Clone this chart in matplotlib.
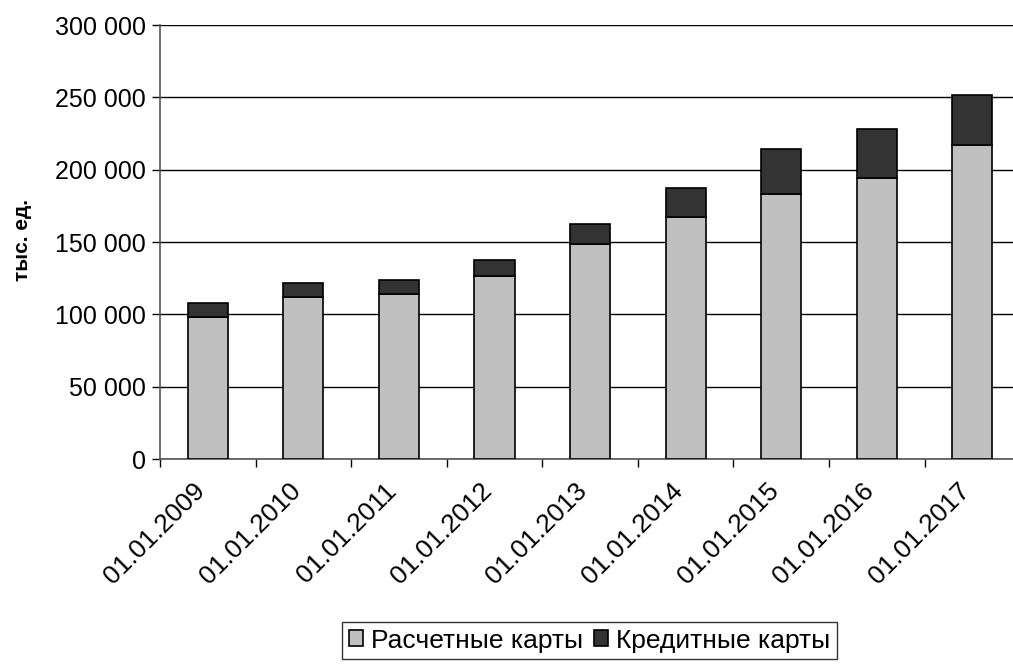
import matplotlib
import matplotlib.pyplot as plt
import matplotlib.transforms as mtransforms
import numpy as np
from matplotlib.ticker import FuncFormatter, FixedLocator

matplotlib.use("Agg")

DATES = ["01.01.2009", "01.01.2010", "01.01.2011", "01.01.2012", "01.01.2013",
         "01.01.2014", "01.01.2015", "01.01.2016", "01.01.2017"]
SETTLEMENT_CARDS = [98300, 112200, 114000, 126500, 148500, 167200, 183300, 194400, 216800]
CREDIT_CARDS = [9300, 9300, 9800, 11100, 14000, 20300, 31000, 33700, 35100]
SERIES_NAMES = ["Расчетные карты", "Кредитные карты"]

plt.rcParams["font.family"] = ["Liberation Sans", "DejaVu Sans"]


def thousands(value, _pos):
    return f"{int(value):,}".replace(",", " ")


fig = plt.figure(figsize=(10.13, 6.64), dpi=100)
ax = fig.add_axes([0.158, 0.3087, 0.849, 0.6536])

x = np.arange(len(DATES))
ax.bar(x, SETTLEMENT_CARDS, width=0.42, color="#c0c0c0", edgecolor="black",
       linewidth=1.2, label=SERIES_NAMES[0], zorder=3)
ax.bar(x, CREDIT_CARDS, width=0.42, bottom=SETTLEMENT_CARDS, color="#333333",
       edgecolor="black", linewidth=1.2, label=SERIES_NAMES[1], zorder=3)

ax.set_xlim(-0.5, len(DATES) - 0.5)
ax.set_ylim(0, 300000)
ax.yaxis.set_major_locator(FixedLocator(np.arange(0, 300001, 50000)))
ax.yaxis.set_major_formatter(FuncFormatter(thousands))
ax.grid(axis="y", color="black", linewidth=1.0, zorder=0)

# category labels sit between boundary ticks
ax.set_xticks(x)
ax.set_xticklabels(DATES, rotation=45, ha="right", rotation_mode="anchor", fontsize=19)
ax.tick_params(axis="x", length=0, pad=14)
ax.set_xticks(np.arange(-0.5, len(DATES)), minor=True)
ax.tick_params(axis="x", which="minor", length=6, width=1.0, direction="out")
ax.tick_params(axis="y", length=6, width=1.0, direction="out", labelsize=18, pad=4)

shift = mtransforms.ScaledTranslation(-0.15, 0, fig.dpi_scale_trans)
for label in ax.get_xticklabels():
    label.set_transform(label.get_transform() + shift)

for side in ("top", "right"):
    ax.spines[side].set_visible(False)
for side in ("left", "bottom"):
    ax.spines[side].set_color("#555555")
    ax.spines[side].set_linewidth(1.2)

fig.text(0.022, 0.638, "тыс. ед.", rotation=90, fontsize=15, fontweight="bold",
         ha="center", va="center")

fig.legend(loc="center", bbox_to_anchor=(0.582, 0.035), ncol=2, fontsize=19,
           frameon=True, fancybox=False, edgecolor="black", handlelength=0.55,
           handleheight=0.55, handletextpad=0.3, columnspacing=0.4, borderpad=0.25)

fig.savefig("out.png", dpi=100)
